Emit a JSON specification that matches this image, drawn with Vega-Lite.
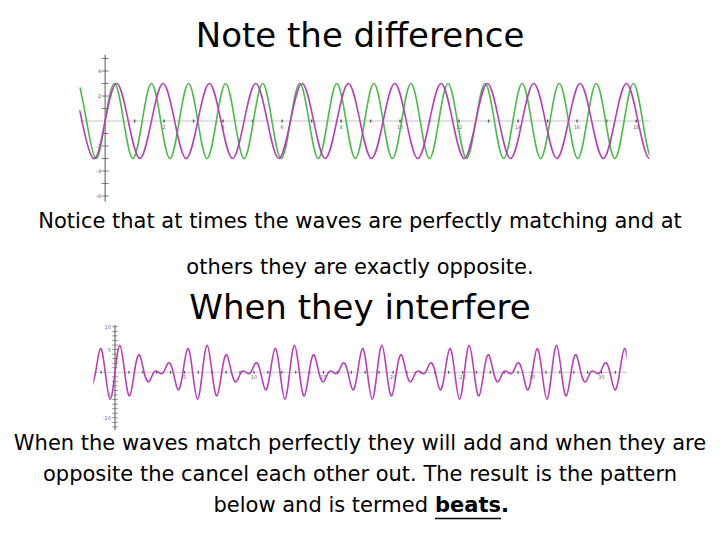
{
  "$schema": "https://vega.github.io/schema/vega-lite/v6.json",
  "background": "white",
  "padding": {"left": 0, "right": 0, "top": 20, "bottom": 0},
  "spacing": 0,
  "bounds": "flush",
  "center": true,
  "config": {"view": {"stroke": null}, "font": "DejaVu Sans"},
  "vconcat": [
    {
      "width": 578.8,
      "height": 270,
      "title": {"text": "Note the difference", "fontSize": 34, "fontWeight": "normal", "font": "DejaVu Sans", "color": "black", "offset": -2.3},
      "encoding": {
        "x": {"field": "x", "type": "quantitative", "scale": {"domain": [-1.17, 18.45], "nice": false, "zero": false}, "axis": null},
        "y": {"field": "y", "type": "quantitative", "scale": {"domain": [-16.08, 5.52], "nice": false, "zero": false}, "axis": null}
      },
      "layer": [
        {"data": {"values": [{"x": -0.85, "x2": 18.45, "y": 0}]}, "mark": {"type": "rule", "color": "#c4c4c4", "strokeWidth": 1}, "encoding": {"x2": {"field": "x2"}}},
        {"data": {"values": [{"x": 0, "y": 5.3, "y2": -6.45}]}, "mark": {"type": "rule", "color": "#555555", "strokeWidth": 1}, "encoding": {"y2": {"field": "y2"}}},
        {"data": {"values": [{"x": 0, "y": -6}, {"x": 0, "y": -5}, {"x": 0, "y": -4}, {"x": 0, "y": -3}, {"x": 0, "y": -2}, {"x": 0, "y": -1}, {"x": 0, "y": 1}, {"x": 0, "y": 2}, {"x": 0, "y": 3}, {"x": 0, "y": 4}, {"x": 0, "y": 5}]}, "mark": {"type": "tick", "orient": "horizontal", "size": 7, "thickness": 1, "color": "#444444"}},
        {"data": {"values": [{"x": 0, "y": 4, "t": "4"}, {"x": 0, "y": 2, "t": "2"}, {"x": 0, "y": -2, "t": "-2"}, {"x": 0, "y": -4, "t": "-4"}, {"x": 0, "y": -6, "t": "-6"}]}, "mark": {"type": "text", "fontSize": 5, "align": "right", "dx": -4, "color": "#666666"}, "encoding": {"text": {"field": "t"}}},
        {"data": {"values": [{"x": 1, "y": 0}, {"x": 2, "y": 0}, {"x": 3, "y": 0}, {"x": 4, "y": 0}, {"x": 5, "y": 0}, {"x": 6, "y": 0}, {"x": 7, "y": 0}, {"x": 8, "y": 0}, {"x": 9, "y": 0}, {"x": 10, "y": 0}, {"x": 11, "y": 0}, {"x": 12, "y": 0}, {"x": 13, "y": 0}, {"x": 14, "y": 0}, {"x": 15, "y": 0}, {"x": 16, "y": 0}, {"x": 17, "y": 0}, {"x": 18, "y": 0}]}, "mark": {"type": "tick", "orient": "vertical", "size": 3, "thickness": 1.5, "color": "#222222"}},
        {"data": {"values": [{"x": 2, "y": 0, "t": "2"}, {"x": 4, "y": 0, "t": "4"}, {"x": 6, "y": 0, "t": "6"}, {"x": 8, "y": 0, "t": "8"}, {"x": 10, "y": 0, "t": "10"}, {"x": 12, "y": 0, "t": "12"}, {"x": 14, "y": 0, "t": "14"}, {"x": 16, "y": 0, "t": "16"}, {"x": 18, "y": 0, "t": "18"}]}, "mark": {"type": "text", "fontSize": 5, "dy": 6, "color": "#666666"}, "encoding": {"text": {"field": "t"}}},
        {"data": {"values": [
          {"x": -0.85, "y": 2.685}, {"x": -0.628, "y": 0}, {"x": -0.314, "y": -3}, {"x": 0, "y": 0}, {"x": 0.314, "y": 3}, {"x": 0.628, "y": 0}, {"x": 0.942, "y": -3}, {"x": 1.257, "y": 0}, {"x": 1.571, "y": 3}, {"x": 1.885, "y": 0}, {"x": 2.199, "y": -3}, {"x": 2.513, "y": 0}, {"x": 2.827, "y": 3}, {"x": 3.142, "y": 0}, {"x": 3.456, "y": -3}, {"x": 3.77, "y": 0}, {"x": 4.084, "y": 3}, {"x": 4.398, "y": 0}, {"x": 4.712, "y": -3}, {"x": 5.027, "y": 0}, {"x": 5.341, "y": 3}, {"x": 5.655, "y": 0}, {"x": 5.969, "y": -3}, {"x": 6.283, "y": 0}, {"x": 6.597, "y": 3}, {"x": 6.912, "y": 0}, {"x": 7.226, "y": -3}, {"x": 7.54, "y": 0}, {"x": 7.854, "y": 3}, {"x": 8.168, "y": 0}, {"x": 8.482, "y": -3}, {"x": 8.796, "y": 0}, {"x": 9.111, "y": 3}, {"x": 9.425, "y": 0}, {"x": 9.739, "y": -3}, {"x": 10.053, "y": 0}, {"x": 10.367, "y": 3}, {"x": 10.681, "y": 0}, {"x": 10.996, "y": -3}, {"x": 11.31, "y": 0}, {"x": 11.624, "y": 3}, {"x": 11.938, "y": 0}, {"x": 12.252, "y": -3}, {"x": 12.566, "y": 0}, {"x": 12.881, "y": 3}, {"x": 13.195, "y": 0}, {"x": 13.509, "y": -3}, {"x": 13.823, "y": 0}, {"x": 14.137, "y": 3}, {"x": 14.451, "y": 0}, {"x": 14.765, "y": -3}, {"x": 15.08, "y": 0}, {"x": 15.394, "y": 3}, {"x": 15.708, "y": 0}, {"x": 16.022, "y": -3}, {"x": 16.336, "y": 0}, {"x": 16.65, "y": 3}, {"x": 16.965, "y": 0}, {"x": 17.279, "y": -3}, {"x": 17.593, "y": 0}, {"x": 17.907, "y": 3}, {"x": 18.221, "y": 0}, {"x": 18.535, "y": -3}, {"x": 18.85, "y": 0}
        ]}, "mark": {"type": "line", "interpolate": "natural", "clip": true, "color": "#4cbb4c", "strokeWidth": 1.6}},
        {"data": {"values": [
          {"x": -0.85, "y": 0.766}, {"x": -0.785, "y": 0}, {"x": -0.393, "y": -3}, {"x": 0, "y": 0}, {"x": 0.393, "y": 3}, {"x": 0.785, "y": 0}, {"x": 1.178, "y": -3}, {"x": 1.571, "y": 0}, {"x": 1.963, "y": 3}, {"x": 2.356, "y": 0}, {"x": 2.749, "y": -3}, {"x": 3.142, "y": 0}, {"x": 3.534, "y": 3}, {"x": 3.927, "y": 0}, {"x": 4.32, "y": -3}, {"x": 4.712, "y": 0}, {"x": 5.105, "y": 3}, {"x": 5.498, "y": 0}, {"x": 5.89, "y": -3}, {"x": 6.283, "y": 0}, {"x": 6.676, "y": 3}, {"x": 7.069, "y": 0}, {"x": 7.461, "y": -3}, {"x": 7.854, "y": 0}, {"x": 8.247, "y": 3}, {"x": 8.639, "y": 0}, {"x": 9.032, "y": -3}, {"x": 9.425, "y": 0}, {"x": 9.817, "y": 3}, {"x": 10.21, "y": 0}, {"x": 10.603, "y": -3}, {"x": 10.996, "y": 0}, {"x": 11.388, "y": 3}, {"x": 11.781, "y": 0}, {"x": 12.174, "y": -3}, {"x": 12.566, "y": 0}, {"x": 12.959, "y": 3}, {"x": 13.352, "y": 0}, {"x": 13.744, "y": -3}, {"x": 14.137, "y": 0}, {"x": 14.53, "y": 3}, {"x": 14.923, "y": 0}, {"x": 15.315, "y": -3}, {"x": 15.708, "y": 0}, {"x": 16.101, "y": 3}, {"x": 16.493, "y": 0}, {"x": 16.886, "y": -3}, {"x": 17.279, "y": 0}, {"x": 17.671, "y": 3}, {"x": 18.064, "y": 0}, {"x": 18.457, "y": -3}, {"x": 18.85, "y": 0}
        ]}, "mark": {"type": "line", "interpolate": "natural", "clip": true, "color": "#b93fb9", "strokeWidth": 1.6}}
      ]
    },
    {
      "width": 533.4,
      "height": 109.9,
      "title": {
        "text": ["Notice that at times the waves are perfectly matching and at", "others they are exactly opposite."],
        "fontSize": 21, "fontWeight": "normal", "font": "DejaVu Sans", "lineHeight": 45.7, "color": "black",
        "subtitle": "When they interfere", "subtitleFontSize": 34, "subtitleFont": "DejaVu Sans", "subtitleFontWeight": "normal", "subtitleColor": "black",
        "subtitlePadding": 14.3, "offset": -4.3
      },
      "encoding": {
        "x": {"field": "x", "type": "quantitative", "scale": {"domain": [-1.56, 36.81], "nice": false, "zero": false}, "axis": null},
        "y": {"field": "y", "type": "quantitative", "scale": {"domain": [-13.1, 11.05], "nice": false, "zero": false}, "axis": null}
      },
      "layer": [
        {"data": {"values": [{"x": -1.56, "x2": 36.81, "y": 0}]}, "mark": {"type": "rule", "color": "#c4c4c4", "strokeWidth": 1}, "encoding": {"x2": {"field": "x2"}}},
        {"data": {"values": [{"x": 0, "y": 10.4, "y2": -12.7}]}, "mark": {"type": "rule", "color": "#555555", "strokeWidth": 1}, "encoding": {"y2": {"field": "y2"}}},
        {"data": {"values": [{"x": 0, "y": -12}, {"x": 0, "y": -11}, {"x": 0, "y": -10}, {"x": 0, "y": -9}, {"x": 0, "y": -8}, {"x": 0, "y": -7}, {"x": 0, "y": -6}, {"x": 0, "y": -5}, {"x": 0, "y": -4}, {"x": 0, "y": -3}, {"x": 0, "y": -2}, {"x": 0, "y": -1}, {"x": 0, "y": 1}, {"x": 0, "y": 2}, {"x": 0, "y": 3}, {"x": 0, "y": 4}, {"x": 0, "y": 5}, {"x": 0, "y": 6}, {"x": 0, "y": 7}, {"x": 0, "y": 8}, {"x": 0, "y": 9}, {"x": 0, "y": 10}]}, "mark": {"type": "tick", "orient": "horizontal", "size": 6, "thickness": 0.8, "color": "#555555"}},
        {"data": {"values": [{"x": 0, "y": 10, "t": "10"}, {"x": 0, "y": 5, "t": "5"}, {"x": 0, "y": -5, "t": "-5"}, {"x": 0, "y": -10, "t": "-10"}]}, "mark": {"type": "text", "fontSize": 5, "align": "right", "dx": -4, "color": "#666666"}, "encoding": {"text": {"field": "t"}}},
        {"data": {"values": [{"x": -1, "y": 0}, {"x": 1, "y": 0}, {"x": 2, "y": 0}, {"x": 3, "y": 0}, {"x": 4, "y": 0}, {"x": 5, "y": 0}, {"x": 6, "y": 0}, {"x": 7, "y": 0}, {"x": 8, "y": 0}, {"x": 9, "y": 0}, {"x": 10, "y": 0}, {"x": 11, "y": 0}, {"x": 12, "y": 0}, {"x": 13, "y": 0}, {"x": 14, "y": 0}, {"x": 15, "y": 0}, {"x": 16, "y": 0}, {"x": 17, "y": 0}, {"x": 18, "y": 0}, {"x": 19, "y": 0}, {"x": 20, "y": 0}, {"x": 21, "y": 0}, {"x": 22, "y": 0}, {"x": 23, "y": 0}, {"x": 24, "y": 0}, {"x": 25, "y": 0}, {"x": 26, "y": 0}, {"x": 27, "y": 0}, {"x": 28, "y": 0}, {"x": 29, "y": 0}, {"x": 30, "y": 0}, {"x": 31, "y": 0}, {"x": 32, "y": 0}, {"x": 33, "y": 0}, {"x": 34, "y": 0}, {"x": 35, "y": 0}, {"x": 36, "y": 0}]}, "mark": {"type": "tick", "orient": "vertical", "size": 3, "thickness": 1.2, "color": "#222222"}},
        {"data": {"values": [{"x": 5, "y": 0, "t": "5"}, {"x": 10, "y": 0, "t": "10"}, {"x": 15, "y": 0, "t": "15"}, {"x": 20, "y": 0, "t": "20"}, {"x": 25, "y": 0, "t": "25"}, {"x": 30, "y": 0, "t": "30"}, {"x": 35, "y": 0, "t": "35"}]}, "mark": {"type": "text", "fontSize": 5, "dy": 5, "color": "#666666"}, "encoding": {"text": {"field": "t"}}},
        {"data": {"values": [
          {"x": -1.745, "y": -3.86}, {"x": -1.396, "y": 0}, {"x": -1.047, "y": 5.2}, {"x": -0.698, "y": 0}, {"x": -0.349, "y": -5.91}, {"x": 0, "y": 0}, {"x": 0.349, "y": 5.91}, {"x": 0.698, "y": 0}, {"x": 1.047, "y": -5.2}, {"x": 1.396, "y": 0}, {"x": 1.745, "y": 3.86}, {"x": 2.094, "y": 0}, {"x": 2.443, "y": -2.05}, {"x": 2.793, "y": 0}, {"x": 3.142, "y": 0}, {"x": 3.491, "y": 0}, {"x": 3.84, "y": 2.05}, {"x": 4.189, "y": 0}, {"x": 4.538, "y": -3.86}, {"x": 4.887, "y": 0}, {"x": 5.236, "y": 5.2}, {"x": 5.585, "y": 0}, {"x": 5.934, "y": -5.91}, {"x": 6.283, "y": 0},
          {"x": 6.632, "y": 5.91}, {"x": 6.981, "y": 0}, {"x": 7.33, "y": -5.2}, {"x": 7.679, "y": 0}, {"x": 8.029, "y": 3.86}, {"x": 8.378, "y": 0}, {"x": 8.727, "y": -2.05}, {"x": 9.076, "y": 0}, {"x": 9.425, "y": 0}, {"x": 9.774, "y": 0}, {"x": 10.123, "y": 2.05}, {"x": 10.472, "y": 0}, {"x": 10.821, "y": -3.86}, {"x": 11.17, "y": 0}, {"x": 11.519, "y": 5.2}, {"x": 11.868, "y": 0}, {"x": 12.217, "y": -5.91}, {"x": 12.566, "y": 0},
          {"x": 12.915, "y": 5.91}, {"x": 13.265, "y": 0}, {"x": 13.614, "y": -5.2}, {"x": 13.963, "y": 0}, {"x": 14.312, "y": 3.86}, {"x": 14.661, "y": 0}, {"x": 15.01, "y": -2.05}, {"x": 15.359, "y": 0}, {"x": 15.708, "y": 0}, {"x": 16.057, "y": 0}, {"x": 16.406, "y": 2.05}, {"x": 16.755, "y": 0}, {"x": 17.104, "y": -3.86}, {"x": 17.453, "y": 0}, {"x": 17.802, "y": 5.2}, {"x": 18.151, "y": 0}, {"x": 18.5, "y": -5.91}, {"x": 18.85, "y": 0},
          {"x": 19.199, "y": 5.91}, {"x": 19.548, "y": 0}, {"x": 19.897, "y": -5.2}, {"x": 20.246, "y": 0}, {"x": 20.595, "y": 3.86}, {"x": 20.944, "y": 0}, {"x": 21.293, "y": -2.05}, {"x": 21.642, "y": 0}, {"x": 21.991, "y": 0}, {"x": 22.34, "y": 0}, {"x": 22.689, "y": 2.05}, {"x": 23.038, "y": 0}, {"x": 23.387, "y": -3.86}, {"x": 23.736, "y": 0}, {"x": 24.086, "y": 5.2}, {"x": 24.435, "y": 0}, {"x": 24.784, "y": -5.91}, {"x": 25.133, "y": 0},
          {"x": 25.482, "y": 5.91}, {"x": 25.831, "y": 0}, {"x": 26.18, "y": -5.2}, {"x": 26.529, "y": 0}, {"x": 26.878, "y": 3.86}, {"x": 27.227, "y": 0}, {"x": 27.576, "y": -2.05}, {"x": 27.925, "y": 0}, {"x": 28.274, "y": 0}, {"x": 28.623, "y": 0}, {"x": 28.972, "y": 2.05}, {"x": 29.322, "y": 0}, {"x": 29.671, "y": -3.86}, {"x": 30.02, "y": 0}, {"x": 30.369, "y": 5.2}, {"x": 30.718, "y": 0}, {"x": 31.067, "y": -5.91}, {"x": 31.416, "y": 0},
          {"x": 31.765, "y": 5.91}, {"x": 32.114, "y": 0}, {"x": 32.463, "y": -5.2}, {"x": 32.812, "y": 0}, {"x": 33.161, "y": 3.86}, {"x": 33.51, "y": 0}, {"x": 33.859, "y": -2.05}, {"x": 34.208, "y": 0}, {"x": 34.558, "y": 0}, {"x": 34.907, "y": 0}, {"x": 35.256, "y": 2.05}, {"x": 35.605, "y": 0}, {"x": 35.954, "y": -3.86}, {"x": 36.303, "y": 0}, {"x": 36.652, "y": 5.2}, {"x": 37.001, "y": 0}
        ]}, "mark": {"type": "line", "interpolate": "natural", "clip": true, "color": "#b93fb9", "strokeWidth": 1.6}}
      ]
    },
    {
      "width": 720,
      "height": 90,
      "encoding": {
        "x": {"datum": 0, "type": "quantitative", "scale": {"domain": [-1, 1], "nice": false}, "axis": null},
        "y": {"field": "row", "type": "quantitative", "scale": {"domain": [0.4444, 3.3016], "reverse": true, "nice": false, "zero": false}, "axis": null}
      },
      "layer": [
        {"data": {"values": [{"row": 1, "text": "When the waves match perfectly they will add and when they are"}, {"row": 2, "text": "opposite the cancel each other out.  The result is the pattern"}]}, "mark": {"type": "text", "fontSize": 21, "align": "center", "baseline": "alphabetic", "color": "black"}, "encoding": {"text": {"field": "text"}}},
        {"data": {"values": [{"row": 3, "text": "below and is termed"}]}, "mark": {"type": "text", "fontSize": 21, "align": "right", "baseline": "alphabetic", "dx": 68, "color": "black"}, "encoding": {"text": {"field": "text"}}},
        {"data": {"values": [{"row": 3, "text": "beats."}]}, "mark": {"type": "text", "fontSize": 21, "align": "left", "baseline": "alphabetic", "dx": 75, "fontWeight": "bold", "color": "black"}, "encoding": {"text": {"field": "text"}}},
        {"data": {"values": [{"row": 3}]}, "mark": {"type": "rule", "color": "black", "strokeWidth": 1.6, "yOffset": 6}, "encoding": {"x": {"datum": 0.2083, "type": "quantitative"}, "x2": {"datum": 0.3917}}}
      ]
    }
  ]
}
